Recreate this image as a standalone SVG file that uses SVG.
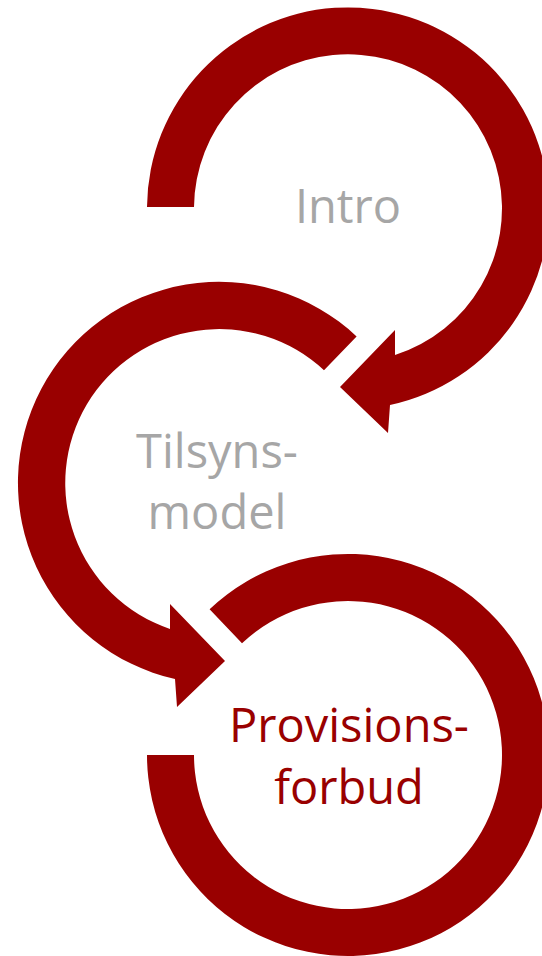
<svg xmlns="http://www.w3.org/2000/svg" width="542" height="956" viewBox="0 0 542 956">
<style>
.ring{fill:#990000;stroke:none}
.lbl{font-family:"Open Sans","Liberation Sans",sans-serif;font-size:47px;text-anchor:middle}
.grey{fill:#A6A6A6}
.red{fill:#990000}
</style>
<rect width="542" height="956" fill="#FFFFFF"/>
<g id="connectors">
<path id="arrow-intro" class="ring" d="M 147 207 A 201 201 0 1 1 390 405 L 388 433 L 340 387 L 395 330 L 395 355 A 154 154 0 1 0 194 207 Z"/>
<path id="arrow-tilsyn" class="ring" d="M 356.6 336.4 A 201 201 0 1 0 175 679 L 177 707 L 225 661 L 170 604 L 170 629 A 154 154 0 1 1 324 370.2 Z"/>
<path id="ring-provision" class="ring" d="M 209.6 609.2 A 201 201 0 1 1 147 755 L 194 755 A 154 154 0 1 0 242 643.3 Z"/>
</g>
<g id="node-intro">
<text class="lbl grey" x="348" y="223">Intro</text>
</g>
<g id="node-tilsynsmodel">
<text class="lbl grey" x="217" y="468">Tilsyns-</text>
<text class="lbl grey" x="217" y="529">model</text>
</g>
<g id="node-provisionsforbud">
<text class="lbl red" x="349" y="742">Provisions-</text>
<text class="lbl red" x="349" y="804">forbud</text>
</g>
</svg>
